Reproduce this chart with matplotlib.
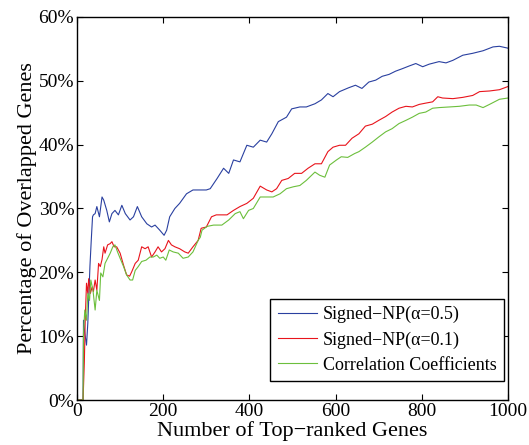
import numpy as np
import matplotlib
matplotlib.use('Agg')
import matplotlib.pyplot as plt
from matplotlib.ticker import FuncFormatter

# values (genes, percent)
np05_x = [0, 14, 15, 18, 22, 25, 27, 30, 33, 36, 38, 42, 46, 52, 58, 62, 69, 75, 81, 88,
          96, 104, 112, 123, 131, 140, 150, 162, 173, 181, 192, 202, 208, 215, 227, 238,
          254, 269, 285, 300, 309, 325, 340, 352, 363, 378, 394, 409, 425, 440, 452, 467,
          486, 498, 517, 532, 552, 567, 582, 594, 609, 630, 646, 661, 677, 693, 708, 724,
          739, 755, 770, 786, 802, 817, 840, 856, 872, 895, 918, 942, 965, 980, 1000]
np05_y = [0, 0, 12.5, 10.5, 8.6, 12.0, 15.6, 21.0, 25.0, 28.7, 29.0, 29.2, 30.3, 28.7, 31.8,
          31.3, 29.7, 27.9, 29.2, 29.7, 29.0, 30.5, 29.2, 28.2, 28.7, 30.3, 28.7, 27.6,
          27.1, 27.4, 26.6, 25.8, 26.6, 28.7, 30.0, 30.8, 32.3, 32.9, 32.9, 32.9, 33.1,
          34.7, 36.3, 35.5, 37.6, 37.3, 39.9, 39.6, 40.7, 40.4, 41.7, 43.6, 44.3, 45.6,
          45.9, 45.9, 46.4, 47.0, 48.0, 47.5, 48.3, 48.9, 49.3, 48.8, 49.8, 50.1, 50.7,
          51.0, 51.5, 51.9, 52.3, 52.7, 52.2, 52.6, 53.0, 52.8, 53.2, 54.0, 54.3, 54.7,
          55.3, 55.4, 55.1]

np01_x = [0, 14, 17, 19, 22, 25, 27, 31, 35, 38, 42, 46, 50, 54, 58, 62, 65, 71, 77, 81,
          86, 92, 100, 108, 115, 122, 127, 135, 142, 150, 158, 165, 173, 181, 188, 196,
          204, 212, 219, 227, 238, 250, 258, 269, 281, 288, 300, 312, 323, 332, 348, 363,
          378, 394, 409, 425, 440, 452, 463, 475, 490, 505, 521, 536, 552, 567, 582, 594,
          609, 623, 638, 654, 669, 685, 700, 716, 731, 747, 763, 778, 794, 809, 825, 837,
          848, 872, 895, 918, 934, 957, 980, 1000]
np01_y = [0, 0, 6.0, 12.5, 18.3, 16.7, 19.0, 16.7, 17.7, 17.0, 18.8, 17.2, 21.4, 20.9,
          22.0, 24.0, 23.0, 24.3, 24.5, 24.8, 24.0, 24.0, 23.0, 21.1, 19.6, 19.4, 20.1,
          21.4, 21.9, 24.0, 23.7, 24.0, 22.4, 23.2, 24.0, 23.2, 23.7, 25.0, 24.3, 24.0,
          23.7, 23.2, 23.0, 24.0, 25.0, 26.9, 27.1, 28.7, 29.0, 29.0, 29.0, 29.7, 30.3,
          30.8, 31.6, 33.5, 32.9, 32.6, 33.1, 34.4, 34.7, 35.5, 35.5, 36.3, 37.0, 37.0,
          38.9, 39.6, 39.9, 39.9, 41.0, 41.7, 42.9, 43.2, 43.8, 44.4, 45.1, 45.7, 46.0,
          45.9, 46.3, 46.5, 46.7, 47.5, 47.3, 47.2, 47.4, 47.7, 48.3, 48.4, 48.6, 49.1]

cc_x = [0, 14, 15, 18, 22, 25, 29, 32, 37, 42, 46, 52, 55, 60, 65, 71, 77, 83, 88, 94,
        100, 108, 115, 123, 129, 135, 142, 150, 160, 169, 177, 185, 192, 200, 206, 214,
        223, 235, 246, 258, 269, 281, 286, 290, 302, 317, 336, 352, 367, 378, 386, 398,
        409, 425, 440, 455, 471, 486, 502, 517, 532, 552, 563, 575, 586, 602, 613, 628,
        644, 654, 669, 685, 700, 716, 731, 747, 763, 778, 794, 809, 825, 840, 864, 887,
        910, 926, 942, 957, 980, 1000]
cc_y = [0, 0, 10.4, 14.1, 12.5, 16.7, 15.6, 18.8, 17.2, 14.1, 17.2, 15.6, 19.9, 19.3,
        21.4, 22.2, 23.0, 24.0, 24.3, 23.2, 22.2, 20.9, 19.6, 18.8, 18.8, 20.3, 20.9,
        21.7, 21.9, 22.4, 22.4, 22.7, 22.2, 22.4, 21.9, 23.5, 23.2, 23.0, 22.2, 22.4,
        23.2, 25.0, 25.5, 26.6, 27.2, 27.4, 27.4, 28.2, 29.2, 29.5, 28.4, 29.7, 30.0,
        31.8, 31.8, 31.8, 32.3, 33.1, 33.4, 33.6, 34.4, 35.7, 35.2, 34.9, 36.8, 37.6,
        38.1, 38.0, 38.6, 38.9, 39.6, 40.4, 41.2, 42.0, 42.5, 43.3, 43.8, 44.3, 44.9,
        45.1, 45.7, 45.8, 45.9, 46.0, 46.2, 46.2, 45.8, 46.3, 47.1, 47.3]

labels = ['Signed\u2212NP(\u03b1=0.5)', 'Signed\u2212NP(\u03b1=0.1)', 'Correlation Coefficients']
colors = ['#2a40a0', '#e8141c', '#6cbf3c']

plt.rcParams['font.family'] = ['Liberation Serif', 'DejaVu Serif']

fig = plt.figure(figsize=(5.29, 4.45), dpi=100)
ax = fig.add_axes([0.1456, 0.101, 0.8148, 0.861])

ax.plot(np05_x, np05_y, color=colors[0], lw=0.8, label=labels[0])
ax.plot(np01_x, np01_y, color=colors[1], lw=0.8, label=labels[1])
ax.plot(cc_x, cc_y, color=colors[2], lw=0.8, label=labels[2])

ax.set_xlim(0, 1000)
ax.set_ylim(0, 60)
ax.set_xticks(np.arange(0, 1001, 200))
ax.set_yticks(np.arange(0, 61, 10))
ax.yaxis.set_major_formatter(FuncFormatter(lambda v, p: '%d%%' % v))
ax.tick_params(direction='in', top=True, right=True, labelsize=14, length=4, width=0.8, pad=2)
for s in ax.spines.values():
    s.set_linewidth(1.0)

ax.set_xlabel('Number of Top\u2212ranked Genes', fontsize=16, labelpad=1)
ax.set_ylabel('Percentage of Overlapped Genes', fontsize=16, labelpad=1)

leg = ax.legend(loc='lower right', bbox_to_anchor=(0.99, 0.05), fontsize=13,
                fancybox=False, edgecolor='black', framealpha=1, handlelength=2.2,
                handletextpad=0.3, borderpad=0.4, labelspacing=0.45, borderaxespad=0)
leg.get_frame().set_linewidth(1.0)

fig.savefig('out.png', dpi=100)
